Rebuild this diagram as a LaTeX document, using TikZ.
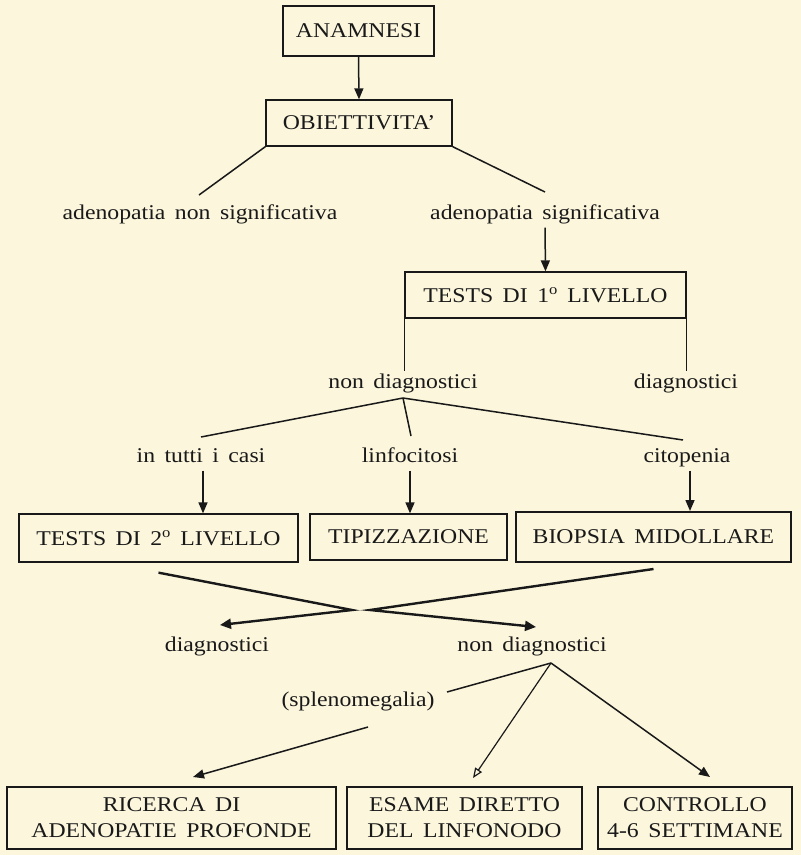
\documentclass[tikz,border=0pt]{standalone}
\usepackage{fontspec}
\setmainfont[FakeStretch=1.13,WordSpace=1.6]{Liberation Serif}
\usetikzlibrary{arrows.meta}
\definecolor{bg}{RGB}{251,246,220}
\definecolor{ink}{RGB}{25,25,25}
\begin{document}
\begin{tikzpicture}[x=1pt,y=-1pt,
  every node/.style={text=ink,font=\fontsize{21}{26}\selectfont},
  box/.style={draw=ink,line width=1.3pt,inner sep=0pt,align=center},
  lab/.style={inner sep=3pt,text height=14pt,text depth=5pt,yshift=-2pt},
  ln/.style={draw=ink,line width=1.5pt},
  arr/.style={draw=ink,line width=1.5pt,-{Triangle[length=11pt,width=9pt]}},
  arrw/.style={draw=ink,line width=2.4pt,-{Triangle[length=11pt,width=10pt]}},
  arro/.style={draw=ink,line width=1.2pt,-{Triangle[open,length=10pt,width=8pt]}}]
\fill[bg] (0,0) rectangle (801,855);
\useasboundingbox (0,0) rectangle (801,855);

% boxes
\node[box,minimum width=151pt,minimum height=50pt] (anam) at (358.5,31) {ANAMNESI};
\node[box,minimum width=186pt,minimum height=46pt] (obie) at (359,123) {OBIETTIVITA'};
\node[box,minimum width=281pt,minimum height=46pt] (t1) at (545.5,295) {TESTS DI 1\textsuperscript{o} LIVELLO};
\node[box,minimum width=279pt,minimum height=48pt] (t2) at (158.5,538) {TESTS DI 2\textsuperscript{o} LIVELLO};
\node[box,minimum width=197pt,minimum height=46pt] (tip) at (408.5,537) {TIPIZZAZIONE};
\node[box,line width=2pt,minimum width=275pt,minimum height=50pt] (bio) at (653.5,537) {BIOPSIA MIDOLLARE};
\node[box,minimum width=329pt,minimum height=62pt] (ric) at (171.5,818) {RICERCA DI\\ADENOPATIE PROFONDE};
\node[box,minimum width=235pt,minimum height=62pt] (esa) at (464.5,818) {ESAME DIRETTO\\DEL LINFONODO};
\node[box,minimum width=194pt,minimum height=62pt] (con) at (695,818) {CONTROLLO\\4-6 SETTIMANE};

% labels
\node[lab] (nonsig) at (200,213) {adenopatia non significativa};
\node[lab] (sig) at (545,213) {adenopatia significativa};
\node[lab] (nd1) at (403,382) {non diagnostici};
\node[lab] (d1) at (686,382) {diagnostici};
\node[lab] (tutti) at (201,456) {in tutti i casi};
\node[lab] (linf) at (410,456) {linfocitosi};
\node[lab] (cito) at (687,456) {citopenia};
\node[lab] (d2) at (217,645) {diagnostici};
\node[lab] (nd2) at (532,645) {non diagnostici};
\node[lab] (spl) at (358,700) {(splenomegalia)};

% named points
\coordinate (ns) at (199,195);
\coordinate (ss) at (545,192);
\coordinate (nd1s) at (403,398);
\coordinate (tuttin) at (201,437);
\coordinate (linfn) at (411,436);
\coordinate (citon) at (683,440);
\coordinate (xL) at (352,610);
\coordinate (xR) at (370,610);
\coordinate (d2t) at (220,625);
\coordinate (nd2t) at (536,627);
\coordinate (apex) at (551,663);
\coordinate (splE) at (447,692);
\coordinate (splS) at (368,727);
\coordinate (ricT) at (193,777);
\coordinate (esaT) at (473,778);
\coordinate (conT) at (710,777);

% connectors
\draw[arr] (anam.south) -- (obie.north);
\draw[ln] (obie.south west) -- (ns);
\draw[ln] (obie.south east) -- (ss);
\draw[arr] (sig.south) -- (t1.north);
\draw[ln] (t1.south west) -- (t1.south west |- nd1.north);
\draw[ln] (t1.south east) -- (t1.south east |- d1.north);
\draw[ln] (nd1s) -- (tuttin);
\draw[ln] (nd1s) -- (linfn);
\draw[ln] (nd1s) -- (citon);
\draw[arr] ([xshift=2pt]tutti.south) -- ([xshift=2pt]tutti.south |- t2.north);
\draw[arr] (linf.south) -- (linf.south |- tip.north);
\draw[arr] ([xshift=3pt]cito.south) -- ([xshift=3pt]cito.south |- bio.north);
\draw[arrw] ([yshift=-10pt]t2.south) -- (xL) -- (d2t);
\draw[arrw] ([yshift=-6pt]bio.south) -- (xR) -- (nd2t);
\draw[ln] (apex) -- (splE);
\draw[arr] (splS) -- (ricT);
\draw[arro] (apex) -- (esaT);
\draw[arr] (apex) -- (conT);
\end{tikzpicture}
\end{document}
